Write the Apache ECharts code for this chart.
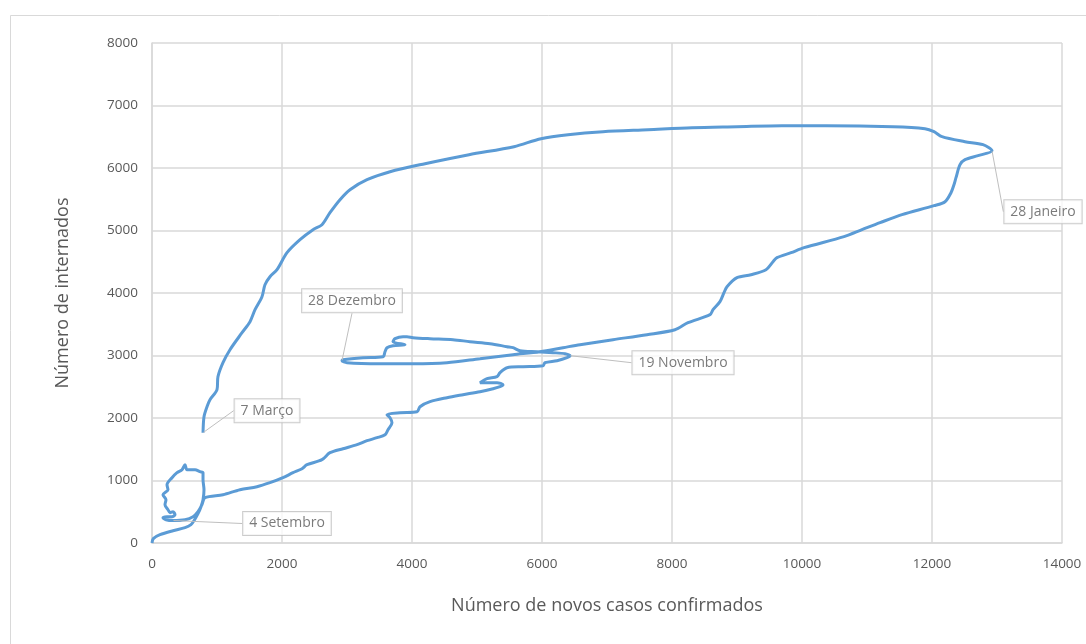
<!DOCTYPE html>
<html>
<head>
<meta charset="utf-8">
<script src="https://cdn.jsdelivr.net/npm/echarts@6/dist/echarts.min.js"></script>
<style>
html,body{margin:0;padding:0;background:#fff;}
#c{width:1086px;height:644px;}
</style>
</head>
<body>
<div id="c"></div>
<script>
// Novos casos confirmados (x) e internados (y), ordem cronológica
const casos = [
  0, 20, 123, 323, 508, 600, 646, 708, 754, 785, 800, 785, 785, 738, 662, 538, 508, 462, 385, 308,
  231, 246, 169, 215, 200, 246, 277, 323, 354, 308, 231, 169, 215, 323,
  508, 631, 708, 769, 815, 1092, 1354, 1615, 1815, 2015, 2169, 2308, 2385, 2615, 2738, 2938,
  3154, 3308, 3462, 3585, 3631, 3692, 3662, 3615, 3815, 4077, 4123, 4277, 4538, 4785, 5046,
  5246, 5354, 5400, 5308, 5046, 5154, 5308, 5354, 5462, 5708, 6015, 6046, 6231, 6385, 6431,
  6354, 6169, 5923, 5662, 5554, 5462, 5200, 4892, 4631, 4277, 4015, 3923, 3862, 3738, 3708,
  3892, 3708, 3615, 3585, 3554, 3246, 2938, 2923,
  3000, 3508, 4015, 4538, 5046, 5554, 5969, 6323, 6585, 7092, 7615, 8046, 8246, 8585, 8631,
  8738, 8800, 8846, 9000, 9215, 9446, 9554, 9615, 9831, 10031, 10646, 10923, 11200, 11538,
  12031, 12200, 12292, 12338, 12369, 12431, 12508, 12708, 12923,
  12785, 12508, 12154, 12031, 11892, 11400, 10369, 9692, 9000, 8308, 7631, 6938, 6400, 5985,
  5569, 4877, 4200, 3662, 3308, 3046, 2892, 2738, 2615, 2477, 2277, 2077, 1923, 1815, 1738,
  1692, 1585, 1508, 1385, 1200, 1092, 1015, 1000, 892, 846, 800, 785
];
const internados = [
  0, 70, 133, 197, 245, 293, 357, 469, 581, 693, 853, 1013, 1125, 1141, 1173, 1173, 1253, 1173, 1125, 1045,
  933, 853, 773, 693, 613, 533, 485, 501, 453, 421, 421, 405, 373, 360,
  373, 421, 501, 613, 725, 773, 853, 901, 965, 1045, 1125, 1189, 1253, 1333, 1445, 1509,
  1573, 1637, 1685, 1733, 1813, 1925, 2005, 2053, 2085, 2101, 2181, 2261, 2325, 2373, 2421,
  2469, 2501, 2533, 2565, 2565, 2629, 2661, 2725, 2805, 2821, 2837, 2885, 2917, 2965, 2997,
  3029, 3045, 3061, 3077, 3125, 3141, 3189, 3221, 3253, 3269, 3285, 3301, 3301, 3269, 3221,
  3173, 3157, 3125, 3061, 2981, 2965, 2933, 2917,
  2885, 2869, 2869, 2885, 2949, 3013, 3061, 3125, 3173, 3253, 3333, 3413, 3525, 3653, 3733,
  3861, 4005, 4101, 4245, 4293, 4373, 4501, 4565, 4645, 4725, 4901, 5013, 5125, 5253,
  5397, 5461, 5605, 5733, 5845, 6053, 6133, 6197, 6277,
  6373, 6421, 6501, 6581, 6629, 6661, 6677, 6677, 6661, 6645, 6613, 6581, 6533, 6469,
  6341, 6213, 6069, 5941, 5813, 5653, 5493, 5285, 5093, 5013, 4853, 4645, 4373, 4261, 4133,
  3941, 3733, 3541, 3365, 3093, 2885, 2661, 2453, 2293, 2181, 2021, 1765
];
// Anotações
const anotacoes = ['7 Março', '4 Setembro', '28 Dezembro', '19 Novembro', '28 Janeiro'];
const anotCasos = [785, 323, 2923, 6431, 12923];
const anotInternados = [1765, 360, 2917, 2997, 6277];
const xTicks = [0, 2000, 4000, 6000, 8000, 10000, 12000, 14000];
const yTicks = [0, 1000, 2000, 3000, 4000, 5000, 6000, 7000, 8000];

// label offsets in pixels (style only)
const offsets = [[64, -22], [114, 3], [10, -60], [113, 7], [51, 61]];

const FONT = "'Open Sans', 'Noto Sans', sans-serif";
const pathData = casos.map((x, i) => [x, internados[i]]);
const annData = anotacoes.map((n, i) => ({value: [anotCasos[i], anotInternados[i]], name: n}));

const chart = echarts.init(document.getElementById('c'), null, {renderer: 'canvas'});
chart.setOption({
  animation: false,
  backgroundColor: '#ffffff',
  graphic: [{
    type: 'rect', left: 8, top: 13, silent: true, z: -10,
    shape: {width: 1100, height: 660},
    style: {fill: 'none', stroke: '#d9d9d9', lineWidth: 1}
  }],
  grid: {left: 152, right: 24, top: 43, bottom: 101},
  xAxis: {
    type: 'value', min: xTicks[0], max: xTicks[xTicks.length - 1], interval: 2000,
    name: 'Número de novos casos confirmados', nameLocation: 'middle', nameGap: 54,
    nameTextStyle: {fontFamily: FONT, fontSize: 18, color: '#595959'},
    axisLine: {show: true, lineStyle: {color: '#d9d9d9', width: 1.5}},
    axisTick: {show: false},
    axisLabel: {fontFamily: FONT, fontSize: 13.5, color: '#595959', margin: 14, formatter: v => String(v)},
    splitLine: {show: true, lineStyle: {color: '#d9d9d9', width: 1.5}}
  },
  yAxis: {
    type: 'value', min: yTicks[0], max: yTicks[yTicks.length - 1], interval: 1000,
    name: 'Número de internados', nameLocation: 'middle', nameGap: 80, nameRotate: 90,
    nameTextStyle: {fontFamily: FONT, fontSize: 18, color: '#595959'},
    axisLine: {show: true, lineStyle: {color: '#d9d9d9', width: 1.5}},
    axisTick: {show: false},
    axisLabel: {fontFamily: FONT, fontSize: 13.5, color: '#595959', margin: 14, formatter: v => String(v)},
    splitLine: {show: true, lineStyle: {color: '#d9d9d9', width: 1.5}}
  },
  series: [{
    type: 'line',
    data: pathData,
    smooth: 0.3,
    showSymbol: false,
    symbol: 'none',
    lineStyle: {color: '#5b9bd5', width: 3},
    z: 3
  }, {
    type: 'scatter',
    data: annData,
    symbolSize: 1,
    itemStyle: {color: 'rgba(0,0,0,0)'},
    label: {
      show: true, position: 'inside',
      formatter: p => p.name,
      fontFamily: FONT, fontSize: 14, color: '#595959',
      backgroundColor: '#ffffff', borderColor: '#bfbfbf', borderWidth: 1,
      padding: [5, 6, 4, 6]
    },
    labelLayout: function (params) {
      const o = offsets[params.dataIndex];
      return {dx: o[0], dy: o[1], hideOverlap: false};
    },
    labelLine: {show: true, lineStyle: {color: '#bfbfbf', width: 1}},
    z: 5
  }]
});
</script>
</body>
</html>
